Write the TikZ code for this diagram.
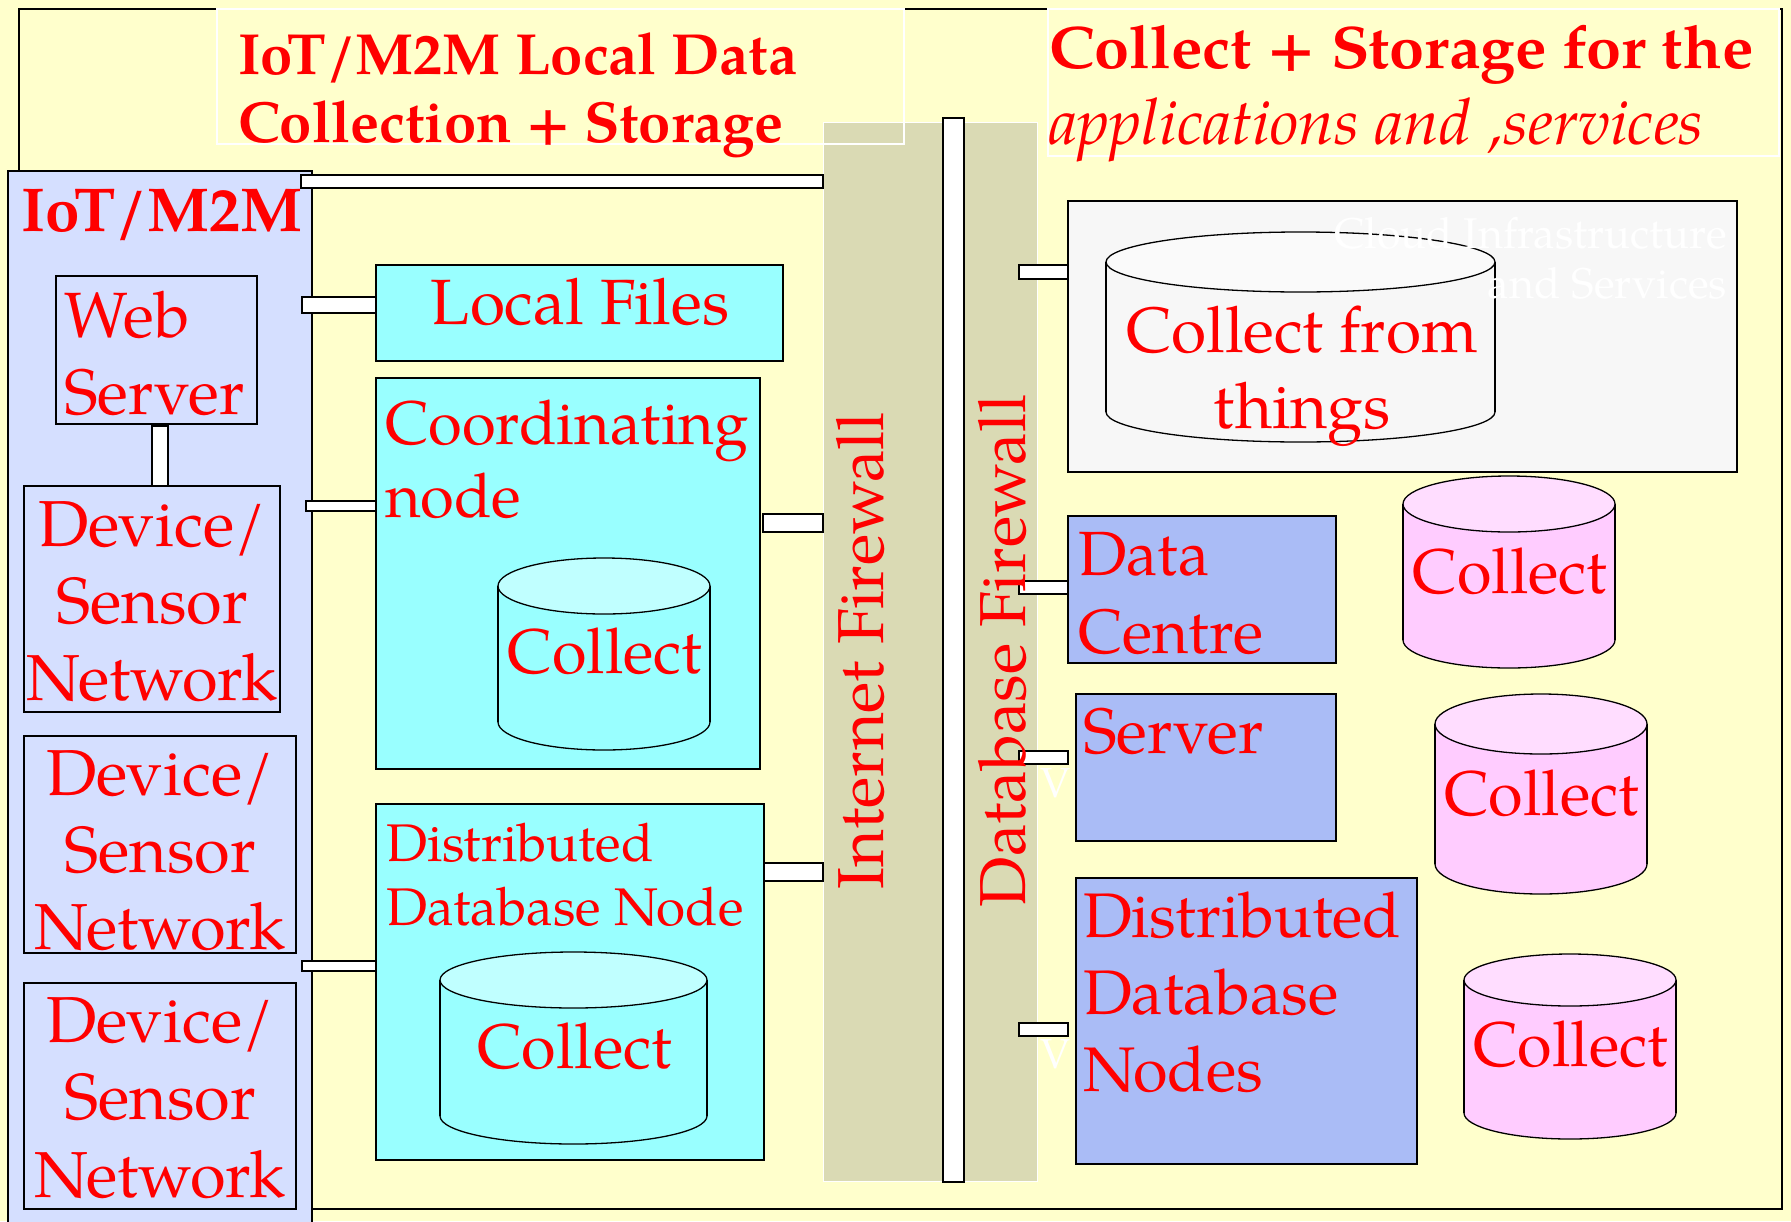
\documentclass[tikz,border=0pt]{standalone}
\usepackage{fontspec}
\setmainfont{texgyrepagella}[Extension=.otf,UprightFont=*-regular,BoldFont=*-bold,ItalicFont=*-italic,BoldItalicFont=*-bolditalic]
\usetikzlibrary{calc}

\definecolor{bgyel}{HTML}{FFFFCC}
\definecolor{lav}{HTML}{D5DFFF}
\definecolor{cyanbox}{HTML}{99FFFF}
\definecolor{cyantop}{HTML}{C0FFFF}
\definecolor{fwtan}{HTML}{DADAB4}
\definecolor{peri}{HTML}{AABCF6}
\definecolor{pinkbody}{HTML}{FFCCFF}
\definecolor{pinktop}{HTML}{FFDDFF}
\definecolor{cloudgray}{HTML}{F7F7F7}

\newcommand\fsz[2]{\fontsize{#1}{#2}\selectfont}
% storage drum: centre x, top y, bottom y, x radius, y radius, body colour, lid colour
\newcommand\drum[7]{%
  \filldraw[fill=#6, line width=1.3pt] (#1,#3) ellipse [x radius=#4, y radius=#5];
  \fill[#6] (#1-#4,#2) rectangle (#1+#4,#3);
  \draw[line width=1.3pt] (#1-#4,#2) -- (#1-#4,#3) (#1+#4,#2) -- (#1+#4,#3);
  \filldraw[fill=#7, line width=1.3pt] (#1,#2) ellipse [x radius=#4, y radius=#5];
}

\begin{document}
\begin{tikzpicture}[x=1pt,y=-1pt,
  box/.style={draw=black, line width=1.5pt, inner sep=0pt, outer sep=0pt, anchor=north west},
  bar/.style={draw=black, fill=white, line width=1.3pt},
  lbl/.style={text=red, inner sep=0pt, outer sep=0pt},
  ghost/.style={text=white, inner sep=0pt, outer sep=0pt}]
\useasboundingbox (0,0) rectangle (1791,1221);
\clip (0,0) rectangle (1791,1221);
\fill[bgyel] (0,0) rectangle (1791,1221);

% outer frame
\draw[line width=2pt] (19,9) rectangle (1782,1209);

% heading panels
\fill[bgyel] (217,9) rectangle (904,144);
\fill[bgyel] (1048,9) rectangle (1779,156);

% IoT/M2M side
\node[box, fill=lav, minimum width=304pt, minimum height=1080pt] (iot) at (8,171) {};
\node[box, fill=lav, minimum width=201pt, minimum height=148pt] (ws) at (56,276) {};
\node[box, fill=lav, minimum width=256pt, minimum height=226pt] (dev1) at (24,486) {};
\node[box, fill=lav, minimum width=272pt, minimum height=217pt] (dev2) at (24,736) {};
\node[box, fill=lav, minimum width=272pt, minimum height=226pt] (dev3) at (24,983) {};

% local collection
\node[box, fill=cyanbox, minimum width=407pt, minimum height=96pt] (lf) at (376,265) {};
\node[box, fill=cyanbox, minimum width=384pt, minimum height=391pt] (cn) at (376,378) {};
\node[box, fill=cyanbox, minimum width=388pt, minimum height=356pt] (ddb) at (376,804) {};
\drum{604}{586}{722}{106}{28}{cyanbox}{cyantop}
\drum{573.5}{980}{1116}{133.5}{28}{cyanbox}{cyantop}

% firewalls
\node[box, draw=white, line width=1pt, fill=fwtan, minimum width=214pt, minimum height=1059pt] (fw) at (823,122) {};
\node[box, fill=white, line width=1.3pt, minimum width=21pt, minimum height=1064pt] (fwbar) at (943,118) {};

% heading panel borders
\draw[white, line width=1.2pt] (217,9) rectangle (904,144);
\draw[white, line width=1.2pt] (1048,9) rectangle (1779,156);

% cloud side
\node[box, fill=cloudgray, minimum width=669pt, minimum height=271pt] (cloud) at (1068,201) {};
\drum{1300.5}{262}{412}{194.5}{30}{cloudgray}{cloudgray!60!white}
\node[box, fill=peri, minimum width=268pt, minimum height=147pt] (dc) at (1068,516) {};
\node[box, fill=peri, minimum width=260pt, minimum height=147pt] (srv) at (1076,694) {};
\node[box, fill=peri, minimum width=341pt, minimum height=286pt] (ddn) at (1076,878) {};
\drum{1509}{504}{640}{106}{28}{pinkbody}{pinktop}
\drum{1541}{724}{864}{106}{30}{pinkbody}{pinktop}
\drum{1570}{980}{1113}{106}{26}{pinkbody}{pinktop}

% links
\draw[bar] (301,175) rectangle (fw.west|-0,188);
\draw[bar] (302,297) rectangle (lf.west|-0,313);
\draw[bar] (306,501) rectangle (cn.west|-0,511);
\draw[bar] (302,961) rectangle (ddb.west|-0,971);
\draw[bar] (152,426) rectangle (dev1.north-|168,0);
\draw[bar] (763,514) rectangle (fw.west|-0,532);
\draw[bar] (764,863) rectangle (fw.west|-0,881);
\coordinate (s1) at (1019,265);
\coordinate (s2) at (1019,581);
\coordinate (s3) at (1019,751);
\coordinate (s4) at (1019,1023);
\draw[bar] (s1) rectangle (cloud.west|-0,279);
\draw[bar] (s2) rectangle (dc.west|-0,594);
\draw[bar] (s3) rectangle (1068,764);
\draw[bar] (s4) rectangle (1068,1036);

% labels
\node[lbl, font={\bfseries\fsz{58}{68}}, anchor=base west] (t-h1) at (238,74)
  {\parbox[t]{700pt}{\raggedright IoT/M2M Local Data\\Collection + Storage}};
\node[lbl, font={\bfseries\fsz{60}{68}}, anchor=base west] (t-h2) at (1049,68)
  {\scalebox{1.05}[1]{Collect + Storage for the}};
\node[lbl, font={\itshape\fsz{64}{70}}, anchor=base west] (t-h3) at (1049,144) {applications and ,services};

\node[lbl, font={\bfseries\fsz{62}{72}}, anchor=base west] (t-iot) at (21,231) {IoT/M2M};
\node[lbl, font={\fsz{64}{77}}, anchor=base west] (t-ws) at (64,337)
  {\parbox[t]{300pt}{\raggedright Web\\Server}};
\node[lbl, font={\fsz{65}{77}}, anchor=base] (t-dev1) at (152,546)
  {\parbox[t]{300pt}{\centering Device/\\Sensor\\Network}};
\node[lbl, font={\fsz{65}{77}}, anchor=base] (t-dev2) at (160,795)
  {\parbox[t]{300pt}{\centering Device/\\Sensor\\Network}};
\node[lbl, font={\fsz{65}{77.5}}, anchor=base] (t-dev3) at (160,1042)
  {\parbox[t]{300pt}{\centering Device/\\Sensor\\Network}};

\node[lbl, font={\fsz{64}{77}}, anchor=base] (t-lf) at (580,324) {Local Files};
\node[lbl, font={\fsz{61.5}{73}}, anchor=base west] (t-cn) at (385,444)
  {\parbox[t]{400pt}{\raggedright Coordinating\\node}};
\node[lbl, font={\fsz{63}{75}}, anchor=base] (t-cnc) at (605,673) {Collect};
\node[lbl, font={\fsz{53}{64}}, anchor=base west] (t-ddb) at (386,861)
  {\parbox[t]{400pt}{\raggedright Distributed\\Database Node}};
\node[lbl, font={\fsz{63}{75}}, anchor=base] (t-ddbc) at (574.5,1068) {Collect};

\node[lbl, font={\fsz{65}{78}}, rotate=90, anchor=base] (t-ifw) at (883,651) {Internet Firewall};
\node[lbl, font={\fsz{65}{78}}, rotate=90, anchor=base] (t-dbfw) at (1025,651) {Database Firewall};

\node[ghost, font={\fsz{43}{50}}, anchor=base east] (t-cloud) at (1727,248)
  {\parbox[t]{500pt}{\raggedleft Cloud Infrastructure\\and Services}};
\node[lbl, font={\fsz{64}{76}}, anchor=base] (t-things) at (1302,352)
  {\parbox[t]{500pt}{\centering Collect from\\things}};
\node[lbl, font={\fsz{62.5}{78}}, anchor=base west] (t-dc) at (1078,575)
  {\parbox[t]{300pt}{\raggedright Data\\Centre}};
\node[lbl, font={\fsz{64}{77}}, anchor=base west] (t-srv) at (1083,753) {Server};
\node[ghost, font={\fsz{42}{50}}, anchor=base west] (t-v1) at (1040,797) {V};
\node[ghost, font={\fsz{42}{50}}, anchor=base west] (t-v2) at (1040,1068) {V};
\node[lbl, font={\fsz{63}{77}}, anchor=base west] (t-ddn) at (1083,937)
  {\parbox[t]{400pt}{\raggedright Distributed\\Database\\Nodes}};
\node[lbl, font={\fsz{63}{75}}, anchor=base] (t-pk1) at (1510,593) {Collect};
\node[lbl, font={\fsz{63}{75}}, anchor=base] (t-pk2) at (1541.5,815) {Collect};
\node[lbl, font={\fsz{63}{75}}, anchor=base] (t-pk3) at (1570.5,1066) {Collect};
\end{tikzpicture}
\end{document}
